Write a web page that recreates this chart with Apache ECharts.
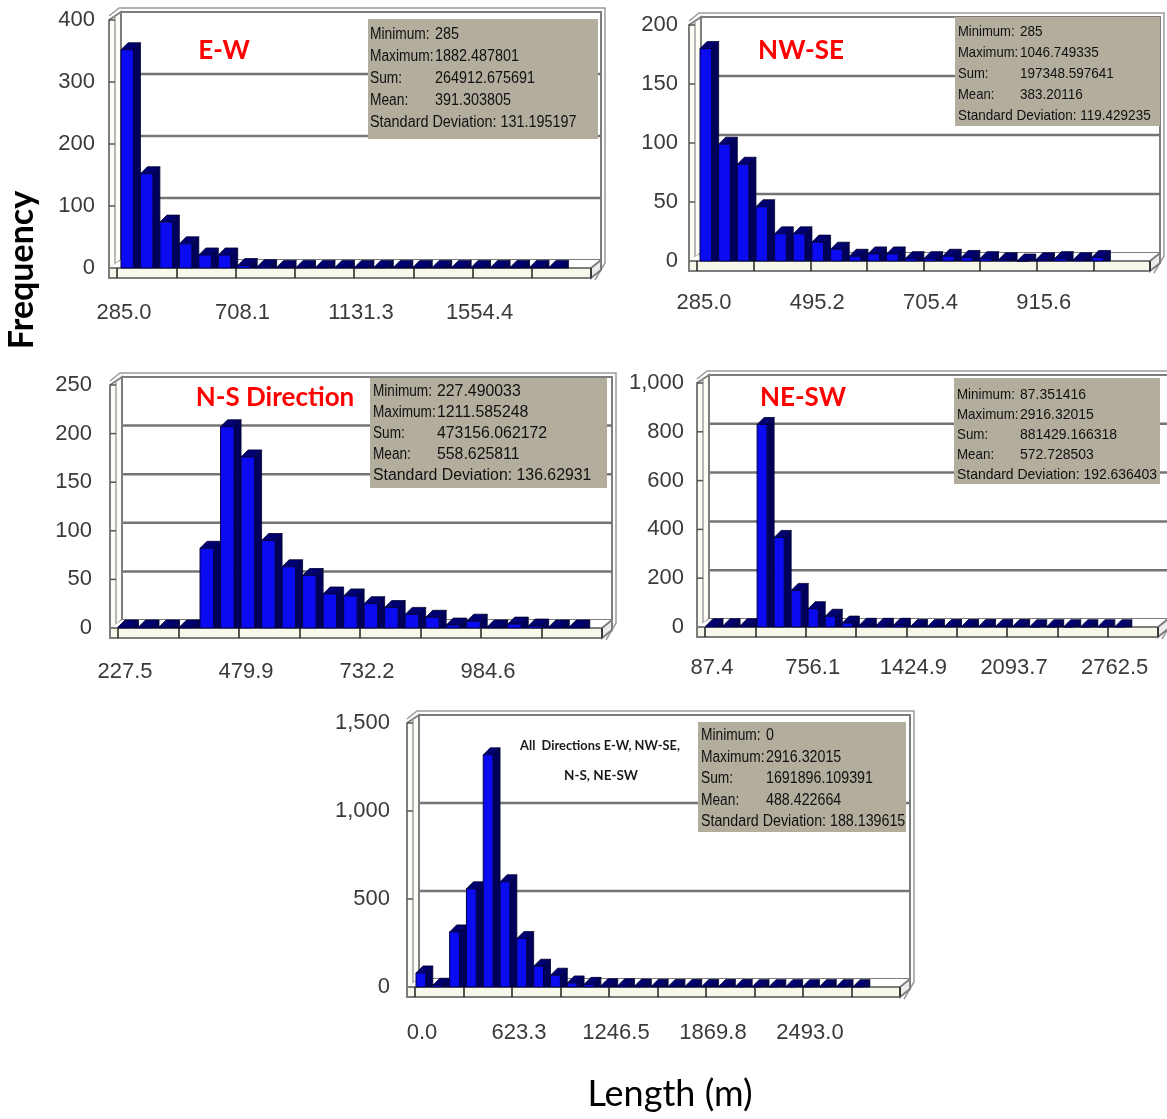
<!DOCTYPE html>
<html><head><meta charset="utf-8">
<script src="https://cdn.jsdelivr.net/npm/echarts@6/dist/echarts.min.js"></script>
<style>html,body{margin:0;padding:0;background:#fff}#c{width:1167px;height:1119px}</style>
</head><body><div id="c"></div>
<script>
// ---------------- DATA ----------------
const statLabels = ['Minimum:', 'Maximum:', 'Sum:', 'Mean:', 'Standard Deviation:'];

const ewTitle = 'E-W';
const ewRange = [285, 1882.487801];
const ewCounts = [352,152,74,39,21,21,4,2,1,1,1,1,1,1,1,1,1,1,1,1,1,1,1];
const ewXLabels = [285.0, 708.1, 1131.3, 1554.4];
const ewYMax = 400, ewYStep = 100;
const ewStats = ['285', '1882.487801', '264912.675691', '391.303805', '131.195197'];

const nwseTitle = 'NW-SE';
const nwseRange = [285, 1046.749335];
const nwseCounts = [180,99,82,46,23,23,16,10,4,6,6,2,2,4,3,2,1,0,1,2,1,3];
const nwseXLabels = [285.0, 495.2, 705.4, 915.6];
const nwseYMax = 200, nwseYStep = 50;
const nwseStats = ['285', '1046.749335', '197348.597641', '383.20116', '119.429235'];

const nsTitle = 'N-S Direction';
const nsRange = [227.490033, 1211.585248];
const nsCounts = [1,1,1,1,82,207,176,90,63,54,35,33,25,21,14,11,3,7,1,4,2,1,1];
const nsXLabels = [227.5, 479.9, 732.2, 984.6];
const nsYMax = 250, nsYStep = 50;
const nsStats = ['227.490033', '1211.585248', '473156.062172', '558.625811', '136.62931'];

const neswTitle = 'NE-SW';
const neswRange = [87.351416, 2916.32015];
const neswCounts = [5,5,5,830,367,150,75,44,16,7,7,7,2,2,2,2,2,2,2,1,1,1,1,1,1];
const neswXLabels = [87.4, 756.1, 1424.9, 2093.7, 2762.5];
const neswYMax = 1000, neswYStep = 200;
const neswStats = ['87.351416', '2916.32015', '881429.166318', '572.728503', '192.636403'];

const allTitle = ['All  Directions E-W, NW-SE,', 'N-S, NE-SW'];
const allRange = [0, 2916.32015];
const allCounts = [80,10,313,558,1319,598,275,118,67,23,15,7,7,5,4,3,3,3,3,3,2,2,2,2,2,2,2];
const allXLabels = [0.0, 623.3, 1246.5, 1869.8, 2493.0];
const allYMax = 1500, allYStep = 500;
const allStats = ['0', '2916.32015', '1691896.109391', '488.422664', '188.139615'];

const yAxisTitle = 'Frequency';
const xAxisTitle = 'Length (m)';

// ---------------- LAYOUT ----------------
const panels = [
  {counts: ewCounts, range: ewRange, xLabels: ewXLabels, yMax: ewYMax, yStep: ewYStep, stats: ewStats,
   grid: {left:117, top:20, width:474, height:248}, nTicks: 8, xMargin: 34, yMargin: 22, shift: 4,
   title: {text: ewTitle, x: 224, y: 51},
   box: {x:368, y:19, w:230, h:120, tx:370, vx:435, y0:35, dy:22, fs:16, sx:0.9, lsx:0.86}},
  {counts: nwseCounts, range: nwseRange, xLabels: nwseXLabels, yMax: nwseYMax, yStep: nwseYStep, stats: nwseStats,
   grid: {left:697, top:25, width:453, height:236}, nTicks: 8, xMargin: 31, yMargin: 19, shift: 3,
   title: {text: nwseTitle, x: 801, y: 51},
   box: {x:955, y:17, w:205, h:109, tx:958, vx:1020, y0:32, dy:21, fs:15, sx:0.9, lsx:0.87}},
  {counts: nsCounts, range: nsRange, xLabels: nsXLabels, yMax: nsYMax, yStep: nsYStep, stats: nsStats,
   grid: {left:118, top:385, width:484, height:243}, nTicks: 8, xMargin: 33, yMargin: 26, shift: 0,
   title: {text: nsTitle, x: 275, y: 398},
   box: {x:370, y:378, w:237, h:110, tx:373, vx:437, y0:392, dy:21, fs:16, sx:0.99, lsx:0.85}},
  {counts: neswCounts, range: neswRange, xLabels: neswXLabels, yMax: neswYMax, yStep: neswYStep, stats: neswStats,
   grid: {left:705, top:383, width:453, height:244}, nTicks: 9, xMargin: 30, yMargin: 21, shift: 1,
   title: {text: neswTitle, x: 803, y: 398},
   box: {x:954, y:378, w:206, h:106, tx:957, vx:1020, y0:395, dy:20, fs:15, sx:0.93, lsx:0.89}},
  {counts: allCounts, range: allRange, xLabels: allXLabels, yMax: allYMax, yStep: allYStep, stats: allStats,
   grid: {left:415, top:723, width:485, height:264}, nTicks: 10, xMargin: 35, yMargin: 25, shift: 1,
   title: null,
   box: {x:698, y:722, w:208, h:110, tx:701, vx:766, y0:736, dy:21.5, fs:16, sx:0.89, lsx:0.86}}
];

const FONT = '"Liberation Sans", Arial, sans-serif';
const DEPTH = 7;

function makeBar(shift) {
  return function (params, api) {
    const x0 = api.value(0), x1 = api.value(1), v = api.value(2);
    const pb = api.coord([x0, 0]);
    const pt = api.coord([x1, v]);
    const left = pb[0] + shift, right = pt[0] + shift, bottom = pb[1], top = pt[1];
    const fr = right - DEPTH;
    return {type: 'group', children: [
      {type: 'polygon', shape: {points: [[fr, bottom], [fr, top], [right, top - DEPTH], [right, bottom]]},
       style: {fill: '#00005a', stroke: '#000030', lineWidth: 0.8}},
      {type: 'polygon', shape: {points: [[left, top], [fr, top], [right, top - DEPTH], [left + DEPTH, top - DEPTH]]},
       style: {fill: '#000070', stroke: '#000030', lineWidth: 0.8}},
      {type: 'rect', shape: {x: left, y: top, width: fr - left, height: bottom - top},
       style: {fill: '#0b0bf2', stroke: '#000045', lineWidth: 1}}
    ]};
  };
}

function makeFrame(p) {
  return function (params, api) {
    const xmin = p.xLabels[0];
    const pb = api.coord([xmin, 0]);
    const ptop = api.coord([xmin, p.yMax]);
    const cs = params.coordSys;
    const L = cs.x, R = cs.x + cs.width, T = ptop[1], B = pb[1];
    const bx = 10, by = -8;
    const gray = '#7d7d7d';
    const ch = [];
    ch.push({type: 'polyline', shape: {points: [[L - 8, T - 4], [L + 2, T + by - 4], [R + bx + 4, T + by - 4], [R + bx + 4, B + by + 3], [R + 4, B + 12]]},
      style: {stroke: '#9a9a9a', lineWidth: 1.5, fill: null}});
    ch.push({type: 'rect', shape: {x: L + 4, y: T + by, width: R + bx - (L + 4), height: B - T},
      style: {fill: '#ffffff', stroke: gray, lineWidth: 2}});
    for (let v = p.yStep; v < p.yMax - 1e-9; v += p.yStep) {
      const y = api.coord([xmin, v])[1] + by;
      ch.push({type: 'line', shape: {x1: L + 4, y1: y, x2: R + bx, y2: y},
        style: {stroke: '#747474', lineWidth: 2.5}});
    }
    ch.push({type: 'polygon', shape: {points: [[L - 8, T], [L + 4, T + by], [L + 4, B + by], [L - 8, B + 2]]},
      style: {fill: '#fdfdf6', stroke: gray, lineWidth: 2}});
    ch.push({type: 'line', shape: {x1: L - 2, y1: T - 4, x2: L - 2, y2: B}, style: {stroke: '#a0a0a0', lineWidth: 1.5}});
    for (let v = 0; v <= p.yMax + 1e-9; v += p.yStep) {
      const y = api.coord([xmin, v])[1];
      ch.push({type: 'line', shape: {x1: L - 8, y1: y, x2: L - 2, y2: y}, style: {stroke: '#555', lineWidth: 1.5}});
    }
    ch.push({type: 'polygon', shape: {points: [[L - 8, B], [R, B], [R + bx, B + by], [L + 4, B + by]]},
      style: {fill: '#ffffff', stroke: null}});
    ch.push({type: 'rect', shape: {x: L - 8, y: B, width: R - (L - 8), height: 10},
      style: {fill: '#f7f7ea', stroke: gray, lineWidth: 2}});
    ch.push({type: 'polygon', shape: {points: [[R, B], [R + bx, B + by], [R + bx, B + by + 10], [R, B + 10]]},
      style: {fill: '#ececec', stroke: gray, lineWidth: 2}});
    return {type: 'group', children: ch};
  };
}

const option = {
  animation: false,
  backgroundColor: '#ffffff',
  grid: [], xAxis: [], yAxis: [], series: [],
  graphic: {elements: []}
};

panels.forEach((p, i) => {
  option.grid.push(Object.assign({outerBoundsMode: 'none', containLabel: false}, p.grid));
  const half = (p.xLabels[1] - p.xLabels[0]) / 2;
  const xMax = p.xLabels[0] + p.nTicks * half;
  const ticks = [];
  for (let k = 0; k <= p.nTicks; k++) ticks.push(p.xLabels[0] + k * half);
  option.xAxis.push({
    gridIndex: i, type: 'value', min: p.xLabels[0], max: xMax, z: 5,
    axisLine: {show: false}, splitLine: {show: false},
    axisTick: {show: true, customValues: ticks, length: 10, inside: false, lineStyle: {color: '#222', width: 1.5}},
    axisLabel: {customValues: p.xLabels, formatter: v => Number(v).toFixed(1), margin: p.xMargin,
      fontSize: 22, color: '#3a3a3a', fontFamily: FONT, padding: [0, 0, 0, 14]}
  });
  option.yAxis.push({
    gridIndex: i, type: 'value', min: 0, max: p.yMax, interval: p.yStep,
    axisLine: {show: false}, axisTick: {show: false}, splitLine: {show: false},
    axisLabel: {margin: p.yMargin, fontSize: 22, color: '#3a3a3a', fontFamily: FONT,
      formatter: v => Number(v).toLocaleString('en-US')}
  });
  option.series.push({
    type: 'custom', xAxisIndex: i, yAxisIndex: i, z: 1, silent: true, clip: false,
    data: [[p.xLabels[0], 0]], renderItem: makeFrame(p)
  });
  const n = p.counts.length;
  const w = (p.range[1] - p.range[0]) / n;
  option.series.push({
    type: 'custom', xAxisIndex: i, yAxisIndex: i, z: 2, silent: true, clip: false,
    encode: {x: [0, 1], y: 2},
    data: p.counts.map((c, k) => [p.range[0] + k * w, p.range[0] + (k + 1) * w, c]),
    renderItem: makeBar(p.shift)
  });
  const b = p.box;
  option.graphic.elements.push({type: 'rect', z: 100, shape: {x: b.x, y: b.y, width: b.w, height: b.h},
    style: {fill: '#b2ad9d'}});
  statLabels.forEach((lab, k) => {
    const y = b.y0 + k * b.dy;
    if (k < 4) {
      option.graphic.elements.push({type: 'text', z: 101, x: b.tx, y: y, scaleX: b.lsx,
        style: {text: lab, font: b.fs + 'px ' + FONT, fill: '#111', align: 'left', verticalAlign: 'middle'}});
      option.graphic.elements.push({type: 'text', z: 101, x: b.vx, y: y, scaleX: b.sx,
        style: {text: p.stats[k], font: b.fs + 'px ' + FONT, fill: '#111', align: 'left', verticalAlign: 'middle'}});
    } else {
      option.graphic.elements.push({type: 'text', z: 101, x: b.tx, y: y, scaleX: b.sx,
        style: {text: lab + ' ' + p.stats[k], font: b.fs + 'px ' + FONT, fill: '#111', align: 'left', verticalAlign: 'middle'}});
    }
  });
  if (p.title) {
    option.graphic.elements.push({type: 'text', z: 102, x: p.title.x, y: p.title.y,
      style: {text: p.title.text, font: 'bold 26px Lato, "Open Sans", sans-serif', fill: '#ff0000', align: 'center', verticalAlign: 'middle'}});
  }
});

option.graphic.elements.push({type: 'text', z: 102, x: 600, y: 746, scaleX: 0.95,
  style: {text: allTitle[0], font: 'bold 13.5px Lato, "Open Sans", sans-serif', fill: '#1a1a1a', align: 'center', verticalAlign: 'middle'}});
option.graphic.elements.push({type: 'text', z: 102, x: 601, y: 776,
  style: {text: allTitle[1], font: 'bold 13.5px Lato, "Open Sans", sans-serif', fill: '#1a1a1a', align: 'center', verticalAlign: 'middle'}});
option.graphic.elements.push({type: 'text', z: 102, x: 22, y: 270, rotation: Math.PI / 2,
  style: {text: yAxisTitle, font: 'bold 34px Lato, "Open Sans", sans-serif', fill: '#000', align: 'center', verticalAlign: 'middle'}});
option.graphic.elements.push({type: 'text', z: 102, x: 670, y: 1094,
  style: {text: xAxisTitle, font: '36px Lato, "Open Sans", sans-serif', fill: '#000', align: 'center', verticalAlign: 'middle'}});

const chart = echarts.init(document.getElementById('c'), null, {renderer: 'canvas'});
chart.setOption(option);
</script></body></html>
